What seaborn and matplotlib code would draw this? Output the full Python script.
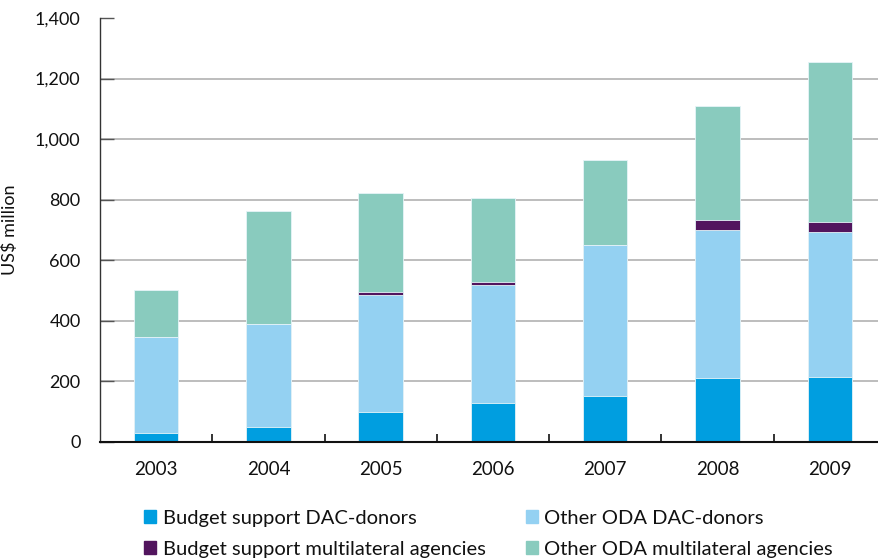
import matplotlib
matplotlib.use("Agg")
import matplotlib.pyplot as plt
import matplotlib.patches as mpatches
from matplotlib.ticker import FixedLocator, FuncFormatter
import numpy as np
import pandas as pd
import seaborn as sns

# Aid flows by year, US$ million
years = ["2003", "2004", "2005", "2006", "2007", "2008", "2009"]
budget_dac = [30, 50, 98, 129, 153, 210, 214]
other_dac = [317, 338, 389, 388, 496, 490, 479]
budget_multi = [0, 0, 7, 10, 0, 32, 33]
other_multi = [154, 375, 328, 278, 281, 377, 530]

series_names = [
    "Budget support DAC-donors",
    "Other ODA DAC-donors",
    "Budget support multilateral agencies",
    "Other ODA multilateral agencies",
]
series_values = [budget_dac, other_dac, budget_multi, other_multi]
colors = ["#009EE0", "#94D1F2", "#52155E", "#89CBBE"]

sns.set_theme(style="white")
plt.rcParams["font.family"] = ["Lato", "DejaVu Sans"]

df = pd.DataFrame({"year": years})
cum = np.zeros(len(years))
for name, vals in zip(series_names, series_values):
    cum = cum + np.array(vals, dtype=float)
    df[name] = cum

fig = plt.figure(figsize=(8.79, 5.59), dpi=100)
ax = fig.add_axes([100 / 879, 117 / 559, 778 / 879, 424 / 559])

# gridlines behind bars
for v in [200, 400, 600, 800, 1000, 1200]:
    ax.axhline(v, color="#ABABAB", lw=1.1, zorder=0)

# stacked bars: draw cumulative totals from the top layer down
for name, col in reversed(list(zip(series_names, colors))):
    sns.barplot(data=df, x="year", y=name, color=col, width=0.395,
                saturation=1, ax=ax, zorder=2,
                edgecolor="#E6F4F8", linewidth=0.6)

ax.set_ylim(0, 1400)
ax.set_xlim(-0.5, 6.43)
ax.set_xlabel("")
ax.set_ylabel("US$ million", fontsize=13, labelpad=12, color="#111111")

ax.yaxis.set_major_locator(FixedLocator([0, 200, 400, 600, 800, 1000, 1200, 1400]))
ax.yaxis.set_major_formatter(FuncFormatter(lambda v, p: f"{int(v):,}"))
ax.tick_params(axis="y", direction="in", length=10, width=1, color="#555555",
               labelsize=13, pad=14, labelcolor="#111111", left=True)
ax.tick_params(axis="x", which="major", length=0, labelsize=13.5, pad=14,
               labelcolor="#111111")
ax.xaxis.set_minor_locator(FixedLocator([0.5, 1.5, 2.5, 3.5, 4.5, 5.5]))
ax.tick_params(axis="x", which="minor", direction="in", length=6, width=1.2,
               color="#111111", bottom=True)

for s in ["top", "right"]:
    ax.spines[s].set_visible(False)
ax.spines["left"].set_color("#333333")
ax.spines["left"].set_linewidth(1.0)
ax.spines["bottom"].set_color("#111111")
ax.spines["bottom"].set_linewidth(1.5)

handles = [mpatches.Patch(color=colors[i], label=series_names[i]) for i in [0, 2, 1, 3]]
fig.legend(handles=handles, ncol=2, loc="upper left",
           bbox_to_anchor=(144 / 879, 1 - 510 / 559), frameon=False,
           fontsize=14.5, handlelength=0.62, handleheight=0.62, handletextpad=0.3,
           columnspacing=2.0, labelspacing=0.68, borderaxespad=0, borderpad=0,
           labelcolor="#111111")

fig.savefig("out.png", dpi=100)
